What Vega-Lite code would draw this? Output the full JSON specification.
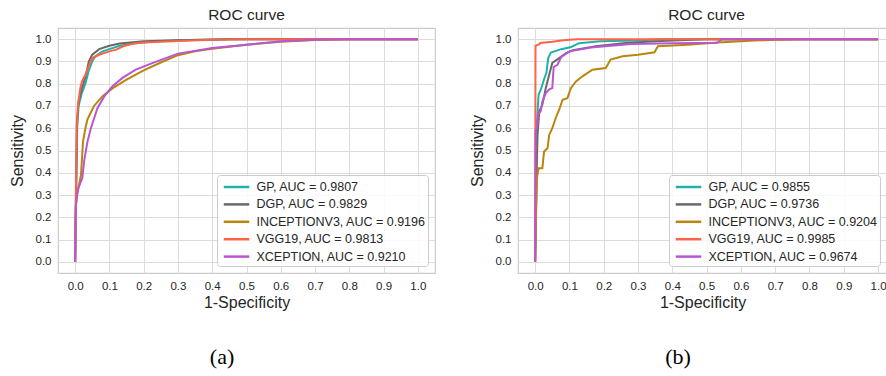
{
  "$schema": "https://vega.github.io/schema/vega-lite/v6.json",
  "padding": {"left": 8, "right": 0, "top": 6, "bottom": 0},
  "background": "white",
  "config": {
    "font": "Liberation Sans",
    "view": {"stroke": "#cccccc", "strokeWidth": 1.2},
    "axis": {
      "grid": true, "gridColor": "#dcdcdc", "gridWidth": 1, "domain": false, "ticks": false,
      "labelFontSize": 11.5, "labelColor": "#262626", "labelFont": "Liberation Sans", "labelPadding": 7,
      "titleFontSize": 16, "titleFontWeight": "normal", "titleColor": "#262626", "titleFont": "Liberation Sans"
    },
    "title": {"fontSize": 15.5, "fontWeight": "normal", "color": "#262626", "font": "Liberation Sans"},
    "legend": {
      "orient": "bottom-right", "offset": 7, "title": null,
      "symbolType": "M-1.5,0H1.5", "symbolSize": 289, "symbolStrokeWidth": 2.5, "symbolOffset": 7.5,
      "labelFontSize": 12.5, "labelColor": "#262626", "labelFont": "Liberation Sans", "labelOffset": 10, "labelLimit": 400,
      "padding": 2, "rowPadding": 0.4,
      "fillColor": "rgba(255,255,255,0.85)", "strokeColor": "#cccccc", "cornerRadius": 3
    },
    "concat": {"spacing": 32}
  },
  "resolve": {"scale": {"color": "independent"}, "legend": {"color": "independent"}},
  "hconcat": [
    {
      "title": {"text": "(a)", "orient": "bottom", "font": "Liberation Serif", "fontSize": 22, "frame": "bounds", "anchor": "middle", "offset": 36, "color": "#000000"},
      "resolve": {"scale": {"color": "independent"}, "legend": {"color": "independent"}},
      "vconcat": [
        {
          "width": 377, "height": 245,
          "title": {"text": "ROC curve", "offset": 5},
          "data": {"name": "a"},
          "mark": {"type": "line", "strokeWidth": 2, "clip": true},
          "encoding": {
            "x": {"field": "fpr", "type": "quantitative", "scale": {"domain": [-0.05, 1.05], "nice": false, "zero": false},
                  "axis": {"title": "1-Specificity", "values": [0,0.1,0.2,0.3,0.4,0.5,0.6,0.7,0.8,0.9,1.0], "format": ".1f", "titlePadding": 3}},
            "y": {"field": "tpr", "type": "quantitative", "scale": {"domain": [-0.05, 1.05], "nice": false, "zero": false},
                  "axis": {"title": "Sensitivity", "values": [0,0.1,0.2,0.3,0.4,0.5,0.6,0.7,0.8,0.9,1.0], "format": ".1f", "titlePadding": 10}},
            "color": {"field": "model", "type": "nominal",
              "scale": {"domain": ["GP, AUC = 0.9807", "DGP, AUC = 0.9829", "INCEPTIONV3, AUC = 0.9196", "VGG19, AUC = 0.9813", "XCEPTION, AUC = 0.9210"],
                        "range": ["#20b2aa", "#696969", "#b8860b", "#ff6347", "#ba55d3"]}},
            "order": [{"field": "tpr"}, {"field": "fpr"}]
          }
        }
      ]
    },
    {
      "title": {"text": "(b)", "orient": "bottom", "font": "Liberation Serif", "fontSize": 22, "frame": "bounds", "anchor": "middle", "offset": 36, "color": "#000000"},
      "resolve": {"scale": {"color": "independent"}, "legend": {"color": "independent"}},
      "vconcat": [
        {
          "width": 369, "height": 245,
          "title": {"text": "ROC curve", "offset": 5, "dx": 4},
          "data": {"name": "b"},
          "mark": {"type": "line", "strokeWidth": 2, "clip": true},
          "encoding": {
            "x": {"field": "fpr", "type": "quantitative", "scale": {"domain": [-0.05, 1.026], "nice": false, "zero": false},
                  "axis": {"title": "1-Specificity", "values": [0,0.1,0.2,0.3,0.4,0.5,0.6,0.7,0.8,0.9,1.0], "format": ".1f", "titlePadding": 3}},
            "y": {"field": "tpr", "type": "quantitative", "scale": {"domain": [-0.05, 1.05], "nice": false, "zero": false},
                  "axis": {"title": "Sensitivity", "values": [0,0.1,0.2,0.3,0.4,0.5,0.6,0.7,0.8,0.9,1.0], "format": ".1f", "titlePadding": 10}},
            "color": {"field": "model", "type": "nominal",
              "scale": {"domain": ["GP, AUC = 0.9855", "DGP, AUC = 0.9736", "INCEPTIONV3, AUC = 0.9204", "VGG19, AUC = 0.9985", "XCEPTION, AUC = 0.9674"],
                        "range": ["#20b2aa", "#696969", "#b8860b", "#ff6347", "#ba55d3"]}},
            "order": [{"field": "tpr"}, {"field": "fpr"}]
          }
        }
      ]
    }
  ],
  "datasets": {
    "a": [
      {"model": "GP, AUC = 0.9807", "fpr": 0, "tpr": 0},
      {"model": "GP, AUC = 0.9807", "fpr": 0.003, "tpr": 0.3},
      {"model": "GP, AUC = 0.9807", "fpr": 0.006, "tpr": 0.6},
      {"model": "GP, AUC = 0.9807", "fpr": 0.01, "tpr": 0.7},
      {"model": "GP, AUC = 0.9807", "fpr": 0.02, "tpr": 0.76},
      {"model": "GP, AUC = 0.9807", "fpr": 0.03, "tpr": 0.8},
      {"model": "GP, AUC = 0.9807", "fpr": 0.04, "tpr": 0.86},
      {"model": "GP, AUC = 0.9807", "fpr": 0.05, "tpr": 0.9},
      {"model": "GP, AUC = 0.9807", "fpr": 0.06, "tpr": 0.925},
      {"model": "GP, AUC = 0.9807", "fpr": 0.08, "tpr": 0.945},
      {"model": "GP, AUC = 0.9807", "fpr": 0.1, "tpr": 0.955},
      {"model": "GP, AUC = 0.9807", "fpr": 0.13, "tpr": 0.97},
      {"model": "GP, AUC = 0.9807", "fpr": 0.17, "tpr": 0.98},
      {"model": "GP, AUC = 0.9807", "fpr": 0.22, "tpr": 0.988},
      {"model": "GP, AUC = 0.9807", "fpr": 0.3, "tpr": 0.995},
      {"model": "GP, AUC = 0.9807", "fpr": 0.45, "tpr": 1.0},
      {"model": "GP, AUC = 0.9807", "fpr": 1.0, "tpr": 1.0},

      {"model": "DGP, AUC = 0.9829", "fpr": 0, "tpr": 0},
      {"model": "DGP, AUC = 0.9829", "fpr": 0.003, "tpr": 0.35},
      {"model": "DGP, AUC = 0.9829", "fpr": 0.005, "tpr": 0.62},
      {"model": "DGP, AUC = 0.9829", "fpr": 0.01, "tpr": 0.72},
      {"model": "DGP, AUC = 0.9829", "fpr": 0.02, "tpr": 0.78},
      {"model": "DGP, AUC = 0.9829", "fpr": 0.03, "tpr": 0.83},
      {"model": "DGP, AUC = 0.9829", "fpr": 0.04, "tpr": 0.9},
      {"model": "DGP, AUC = 0.9829", "fpr": 0.05, "tpr": 0.93},
      {"model": "DGP, AUC = 0.9829", "fpr": 0.07, "tpr": 0.955},
      {"model": "DGP, AUC = 0.9829", "fpr": 0.1, "tpr": 0.97},
      {"model": "DGP, AUC = 0.9829", "fpr": 0.13, "tpr": 0.98},
      {"model": "DGP, AUC = 0.9829", "fpr": 0.2, "tpr": 0.99},
      {"model": "DGP, AUC = 0.9829", "fpr": 0.3, "tpr": 0.995},
      {"model": "DGP, AUC = 0.9829", "fpr": 0.45, "tpr": 1.0},
      {"model": "DGP, AUC = 0.9829", "fpr": 1.0, "tpr": 1.0},

      {"model": "INCEPTIONV3, AUC = 0.9196", "fpr": 0, "tpr": 0},
      {"model": "INCEPTIONV3, AUC = 0.9196", "fpr": 0.002, "tpr": 0.25},
      {"model": "INCEPTIONV3, AUC = 0.9196", "fpr": 0.007, "tpr": 0.31},
      {"model": "INCEPTIONV3, AUC = 0.9196", "fpr": 0.017, "tpr": 0.39},
      {"model": "INCEPTIONV3, AUC = 0.9196", "fpr": 0.023, "tpr": 0.54},
      {"model": "INCEPTIONV3, AUC = 0.9196", "fpr": 0.03, "tpr": 0.6},
      {"model": "INCEPTIONV3, AUC = 0.9196", "fpr": 0.036, "tpr": 0.64},
      {"model": "INCEPTIONV3, AUC = 0.9196", "fpr": 0.055, "tpr": 0.7},
      {"model": "INCEPTIONV3, AUC = 0.9196", "fpr": 0.08, "tpr": 0.744},
      {"model": "INCEPTIONV3, AUC = 0.9196", "fpr": 0.11, "tpr": 0.78},
      {"model": "INCEPTIONV3, AUC = 0.9196", "fpr": 0.15, "tpr": 0.818},
      {"model": "INCEPTIONV3, AUC = 0.9196", "fpr": 0.2, "tpr": 0.86},
      {"model": "INCEPTIONV3, AUC = 0.9196", "fpr": 0.25, "tpr": 0.895},
      {"model": "INCEPTIONV3, AUC = 0.9196", "fpr": 0.3, "tpr": 0.928},
      {"model": "INCEPTIONV3, AUC = 0.9196", "fpr": 0.35, "tpr": 0.945},
      {"model": "INCEPTIONV3, AUC = 0.9196", "fpr": 0.4, "tpr": 0.957},
      {"model": "INCEPTIONV3, AUC = 0.9196", "fpr": 0.5, "tpr": 0.975},
      {"model": "INCEPTIONV3, AUC = 0.9196", "fpr": 0.6, "tpr": 0.988},
      {"model": "INCEPTIONV3, AUC = 0.9196", "fpr": 0.7, "tpr": 0.996},
      {"model": "INCEPTIONV3, AUC = 0.9196", "fpr": 0.78, "tpr": 1.0},
      {"model": "INCEPTIONV3, AUC = 0.9196", "fpr": 1.0, "tpr": 1.0},

      {"model": "VGG19, AUC = 0.9813", "fpr": 0, "tpr": 0},
      {"model": "VGG19, AUC = 0.9813", "fpr": 0.002, "tpr": 0.3},
      {"model": "VGG19, AUC = 0.9813", "fpr": 0.005, "tpr": 0.6},
      {"model": "VGG19, AUC = 0.9813", "fpr": 0.008, "tpr": 0.7},
      {"model": "VGG19, AUC = 0.9813", "fpr": 0.015, "tpr": 0.78},
      {"model": "VGG19, AUC = 0.9813", "fpr": 0.02, "tpr": 0.81},
      {"model": "VGG19, AUC = 0.9813", "fpr": 0.03, "tpr": 0.84},
      {"model": "VGG19, AUC = 0.9813", "fpr": 0.04, "tpr": 0.88},
      {"model": "VGG19, AUC = 0.9813", "fpr": 0.05, "tpr": 0.915},
      {"model": "VGG19, AUC = 0.9813", "fpr": 0.07, "tpr": 0.93},
      {"model": "VGG19, AUC = 0.9813", "fpr": 0.1, "tpr": 0.945},
      {"model": "VGG19, AUC = 0.9813", "fpr": 0.12, "tpr": 0.953},
      {"model": "VGG19, AUC = 0.9813", "fpr": 0.14, "tpr": 0.968},
      {"model": "VGG19, AUC = 0.9813", "fpr": 0.17, "tpr": 0.98},
      {"model": "VGG19, AUC = 0.9813", "fpr": 0.2, "tpr": 0.985},
      {"model": "VGG19, AUC = 0.9813", "fpr": 0.3, "tpr": 0.992},
      {"model": "VGG19, AUC = 0.9813", "fpr": 0.4, "tpr": 0.997},
      {"model": "VGG19, AUC = 0.9813", "fpr": 0.5, "tpr": 1.0},
      {"model": "VGG19, AUC = 0.9813", "fpr": 1.0, "tpr": 1.0},

      {"model": "XCEPTION, AUC = 0.9210", "fpr": 0, "tpr": 0},
      {"model": "XCEPTION, AUC = 0.9210", "fpr": 0.002, "tpr": 0.25},
      {"model": "XCEPTION, AUC = 0.9210", "fpr": 0.004, "tpr": 0.29},
      {"model": "XCEPTION, AUC = 0.9210", "fpr": 0.009, "tpr": 0.33},
      {"model": "XCEPTION, AUC = 0.9210", "fpr": 0.021, "tpr": 0.377},
      {"model": "XCEPTION, AUC = 0.9210", "fpr": 0.026, "tpr": 0.45},
      {"model": "XCEPTION, AUC = 0.9210", "fpr": 0.036, "tpr": 0.54},
      {"model": "XCEPTION, AUC = 0.9210", "fpr": 0.046, "tpr": 0.6},
      {"model": "XCEPTION, AUC = 0.9210", "fpr": 0.065, "tpr": 0.69},
      {"model": "XCEPTION, AUC = 0.9210", "fpr": 0.085, "tpr": 0.743},
      {"model": "XCEPTION, AUC = 0.9210", "fpr": 0.109, "tpr": 0.789},
      {"model": "XCEPTION, AUC = 0.9210", "fpr": 0.138, "tpr": 0.826},
      {"model": "XCEPTION, AUC = 0.9210", "fpr": 0.177, "tpr": 0.863},
      {"model": "XCEPTION, AUC = 0.9210", "fpr": 0.225, "tpr": 0.892},
      {"model": "XCEPTION, AUC = 0.9210", "fpr": 0.3, "tpr": 0.935},
      {"model": "XCEPTION, AUC = 0.9210", "fpr": 0.4, "tpr": 0.96},
      {"model": "XCEPTION, AUC = 0.9210", "fpr": 0.5, "tpr": 0.975},
      {"model": "XCEPTION, AUC = 0.9210", "fpr": 0.6, "tpr": 0.99},
      {"model": "XCEPTION, AUC = 0.9210", "fpr": 0.7, "tpr": 0.997},
      {"model": "XCEPTION, AUC = 0.9210", "fpr": 0.8, "tpr": 1.0},
      {"model": "XCEPTION, AUC = 0.9210", "fpr": 1.0, "tpr": 1.0}
    ],
    "b": [
      {"model": "GP, AUC = 0.9855", "fpr": 0, "tpr": 0},
      {"model": "GP, AUC = 0.9855", "fpr": 0.003, "tpr": 0.3},
      {"model": "GP, AUC = 0.9855", "fpr": 0.004, "tpr": 0.593},
      {"model": "GP, AUC = 0.9855", "fpr": 0.01, "tpr": 0.75},
      {"model": "GP, AUC = 0.9855", "fpr": 0.017, "tpr": 0.775},
      {"model": "GP, AUC = 0.9855", "fpr": 0.026, "tpr": 0.82},
      {"model": "GP, AUC = 0.9855", "fpr": 0.033, "tpr": 0.85},
      {"model": "GP, AUC = 0.9855", "fpr": 0.038, "tpr": 0.915},
      {"model": "GP, AUC = 0.9855", "fpr": 0.046, "tpr": 0.94},
      {"model": "GP, AUC = 0.9855", "fpr": 0.076, "tpr": 0.955},
      {"model": "GP, AUC = 0.9855", "fpr": 0.105, "tpr": 0.965},
      {"model": "GP, AUC = 0.9855", "fpr": 0.128, "tpr": 0.982},
      {"model": "GP, AUC = 0.9855", "fpr": 0.19, "tpr": 0.99},
      {"model": "GP, AUC = 0.9855", "fpr": 0.3, "tpr": 0.994},
      {"model": "GP, AUC = 0.9855", "fpr": 0.36, "tpr": 1.0},
      {"model": "GP, AUC = 0.9855", "fpr": 1.0, "tpr": 1.0},

      {"model": "DGP, AUC = 0.9736", "fpr": 0, "tpr": 0},
      {"model": "DGP, AUC = 0.9736", "fpr": 0.004, "tpr": 0.38},
      {"model": "DGP, AUC = 0.9736", "fpr": 0.007, "tpr": 0.57},
      {"model": "DGP, AUC = 0.9736", "fpr": 0.012, "tpr": 0.675},
      {"model": "DGP, AUC = 0.9736", "fpr": 0.021, "tpr": 0.706},
      {"model": "DGP, AUC = 0.9736", "fpr": 0.031, "tpr": 0.78},
      {"model": "DGP, AUC = 0.9736", "fpr": 0.041, "tpr": 0.84},
      {"model": "DGP, AUC = 0.9736", "fpr": 0.05, "tpr": 0.893},
      {"model": "DGP, AUC = 0.9736", "fpr": 0.07, "tpr": 0.915},
      {"model": "DGP, AUC = 0.9736", "fpr": 0.09, "tpr": 0.937},
      {"model": "DGP, AUC = 0.9736", "fpr": 0.11, "tpr": 0.95},
      {"model": "DGP, AUC = 0.9736", "fpr": 0.177, "tpr": 0.968},
      {"model": "DGP, AUC = 0.9736", "fpr": 0.264, "tpr": 0.983},
      {"model": "DGP, AUC = 0.9736", "fpr": 0.35, "tpr": 0.99},
      {"model": "DGP, AUC = 0.9736", "fpr": 0.5, "tpr": 1.0},
      {"model": "DGP, AUC = 0.9736", "fpr": 1.0, "tpr": 1.0},

      {"model": "INCEPTIONV3, AUC = 0.9204", "fpr": 0, "tpr": 0},
      {"model": "INCEPTIONV3, AUC = 0.9204", "fpr": 0.005, "tpr": 0.376},
      {"model": "INCEPTIONV3, AUC = 0.9204", "fpr": 0.01, "tpr": 0.42},
      {"model": "INCEPTIONV3, AUC = 0.9204", "fpr": 0.021, "tpr": 0.42},
      {"model": "INCEPTIONV3, AUC = 0.9204", "fpr": 0.026, "tpr": 0.496},
      {"model": "INCEPTIONV3, AUC = 0.9204", "fpr": 0.036, "tpr": 0.51},
      {"model": "INCEPTIONV3, AUC = 0.9204", "fpr": 0.041, "tpr": 0.57},
      {"model": "INCEPTIONV3, AUC = 0.9204", "fpr": 0.05, "tpr": 0.6},
      {"model": "INCEPTIONV3, AUC = 0.9204", "fpr": 0.06, "tpr": 0.646},
      {"model": "INCEPTIONV3, AUC = 0.9204", "fpr": 0.07, "tpr": 0.683},
      {"model": "INCEPTIONV3, AUC = 0.9204", "fpr": 0.08, "tpr": 0.728},
      {"model": "INCEPTIONV3, AUC = 0.9204", "fpr": 0.094, "tpr": 0.735},
      {"model": "INCEPTIONV3, AUC = 0.9204", "fpr": 0.104, "tpr": 0.78},
      {"model": "INCEPTIONV3, AUC = 0.9204", "fpr": 0.119, "tpr": 0.81},
      {"model": "INCEPTIONV3, AUC = 0.9204", "fpr": 0.138, "tpr": 0.833},
      {"model": "INCEPTIONV3, AUC = 0.9204", "fpr": 0.167, "tpr": 0.863},
      {"model": "INCEPTIONV3, AUC = 0.9204", "fpr": 0.206, "tpr": 0.87},
      {"model": "INCEPTIONV3, AUC = 0.9204", "fpr": 0.22, "tpr": 0.908},
      {"model": "INCEPTIONV3, AUC = 0.9204", "fpr": 0.255, "tpr": 0.923},
      {"model": "INCEPTIONV3, AUC = 0.9204", "fpr": 0.3, "tpr": 0.93},
      {"model": "INCEPTIONV3, AUC = 0.9204", "fpr": 0.348, "tpr": 0.941},
      {"model": "INCEPTIONV3, AUC = 0.9204", "fpr": 0.358, "tpr": 0.968},
      {"model": "INCEPTIONV3, AUC = 0.9204", "fpr": 0.445, "tpr": 0.975},
      {"model": "INCEPTIONV3, AUC = 0.9204", "fpr": 0.533, "tpr": 0.985},
      {"model": "INCEPTIONV3, AUC = 0.9204", "fpr": 0.64, "tpr": 0.994},
      {"model": "INCEPTIONV3, AUC = 0.9204", "fpr": 0.766, "tpr": 1.0},
      {"model": "INCEPTIONV3, AUC = 0.9204", "fpr": 1.0, "tpr": 1.0},

      {"model": "VGG19, AUC = 0.9985", "fpr": 0, "tpr": 0},
      {"model": "VGG19, AUC = 0.9985", "fpr": 0.001, "tpr": 0.97},
      {"model": "VGG19, AUC = 0.9985", "fpr": 0.013, "tpr": 0.978},
      {"model": "VGG19, AUC = 0.9985", "fpr": 0.015, "tpr": 0.983},
      {"model": "VGG19, AUC = 0.9985", "fpr": 0.05, "tpr": 0.988},
      {"model": "VGG19, AUC = 0.9985", "fpr": 0.076, "tpr": 0.994},
      {"model": "VGG19, AUC = 0.9985", "fpr": 0.1, "tpr": 0.997},
      {"model": "VGG19, AUC = 0.9985", "fpr": 0.124, "tpr": 1.0},
      {"model": "VGG19, AUC = 0.9985", "fpr": 1.0, "tpr": 1.0},

      {"model": "XCEPTION, AUC = 0.9674", "fpr": 0, "tpr": 0},
      {"model": "XCEPTION, AUC = 0.9674", "fpr": 0.001, "tpr": 0.59},
      {"model": "XCEPTION, AUC = 0.9674", "fpr": 0.005, "tpr": 0.6},
      {"model": "XCEPTION, AUC = 0.9674", "fpr": 0.009, "tpr": 0.665},
      {"model": "XCEPTION, AUC = 0.9674", "fpr": 0.016, "tpr": 0.675},
      {"model": "XCEPTION, AUC = 0.9674", "fpr": 0.021, "tpr": 0.72},
      {"model": "XCEPTION, AUC = 0.9674", "fpr": 0.031, "tpr": 0.758},
      {"model": "XCEPTION, AUC = 0.9674", "fpr": 0.041, "tpr": 0.775},
      {"model": "XCEPTION, AUC = 0.9674", "fpr": 0.05, "tpr": 0.78},
      {"model": "XCEPTION, AUC = 0.9674", "fpr": 0.054, "tpr": 0.875},
      {"model": "XCEPTION, AUC = 0.9674", "fpr": 0.065, "tpr": 0.885},
      {"model": "XCEPTION, AUC = 0.9674", "fpr": 0.076, "tpr": 0.92},
      {"model": "XCEPTION, AUC = 0.9674", "fpr": 0.1, "tpr": 0.945},
      {"model": "XCEPTION, AUC = 0.9674", "fpr": 0.163, "tpr": 0.962},
      {"model": "XCEPTION, AUC = 0.9674", "fpr": 0.28, "tpr": 0.978},
      {"model": "XCEPTION, AUC = 0.9674", "fpr": 0.4, "tpr": 0.982},
      {"model": "XCEPTION, AUC = 0.9674", "fpr": 0.53, "tpr": 0.984},
      {"model": "XCEPTION, AUC = 0.9674", "fpr": 0.545, "tpr": 1.0},
      {"model": "XCEPTION, AUC = 0.9674", "fpr": 1.0, "tpr": 1.0}
    ]
  }
}
